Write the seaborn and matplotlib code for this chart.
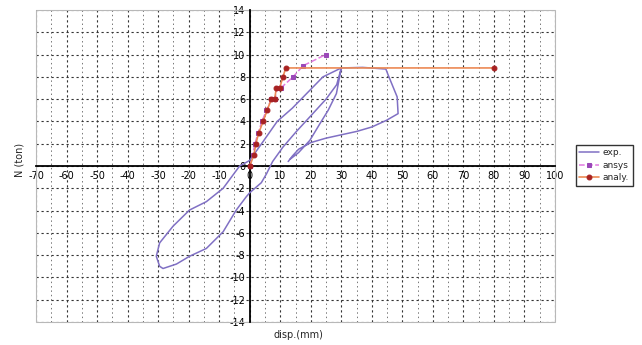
import numpy as np
import pandas as pd
from matplotlib import pyplot as plt
from matplotlib.patches import Rectangle
import seaborn as sbn

# exp. curve (hysteresis path, in drawing order)
exp_x = [12.6, 14, 16, 20, 25, 30, 35, 40, 44.8, 48.6, 48.3, 45.3, 44.6, 37, 30,
         24, 19, 14, 9, 4.4, 0, -3.3, -8.7, -14.2, -19.7, -25.1, -29.5, -30.6, -29.5, -28.4,
         -24, -19.7, -14.2, -8.7, -4.4, -1.1, 0, 3.8, 5.5, 7.5, 10.9, 15.3, 20, 25, 28.5, 30,
         28.4, 25.7, 23, 19.7, 16, 13.2]
exp_y = [0.4, 0.9, 1.5, 2.1, 2.5, 2.8, 3.1, 3.5, 4.1, 4.7, 6.2, 8.2, 8.7, 8.85, 8.8,
         8.0, 6.6, 5.2, 4.0, 2.2, 0.5, 0, -2.0, -3.2, -3.95, -5.4, -6.9, -8.1, -9.0, -9.2,
         -8.8, -8.1, -7.4, -5.9, -3.95, -2.75, -2.4, -1.5, -0.7, 0.4, 1.7, 3.1, 4.5, 6.0, 7.3, 8.8,
         6.5, 5.0, 3.8, 2.3, 1.2, 0.6]

# ansys
ansys_x = [0, 1.0, 1.7, 2.8, 4.0, 5.5, 7.1, 8.2, 9.0, 10.2, 14.2, 17.5, 24.9]
ansys_y = [0, 1, 2, 3, 4, 5, 6, 6, 7, 7, 8, 9, 10]

# analytical
analy_x = [0, 1.4, 2, 3, 4.4, 5.7, 7.1, 8.2, 8.7, 9.8, 10.9, 11.8, 80]
analy_y = [0, 1, 2, 3, 4, 5, 6, 6, 7, 7, 8, 8.8, 8.8]

x_ticks = list(range(-70, 101, 10))
y_ticks = list(range(-14, 15, 2))

sbn.set_style('white')
plt.rcParams['font.family'] = ['DejaVu Sans']

fig = plt.figure(figsize=(6.42, 3.45), dpi=100)
ax = fig.add_axes([36 / 642, 1 - 322 / 345, (555 - 36) / 642, (322 - 10) / 345])

exp_df = pd.DataFrame({'x': exp_x, 'y': exp_y})
ansys_df = pd.DataFrame({'x': ansys_x, 'y': ansys_y})
analy_df = pd.DataFrame({'x': analy_x, 'y': analy_y})

sbn.lineplot(data=exp_df, x='x', y='y', sort=False, estimator=None, ax=ax,
             color='#8070c4', linewidth=1.1, label='exp.', zorder=4)
sbn.lineplot(data=ansys_df, x='x', y='y', sort=False, estimator=None, ax=ax,
             color='#e27ae0', linewidth=1.1, linestyle='--', marker='s', markersize=3.5,
             markerfacecolor='#9a48b8', markeredgecolor='#9a48b8', label='ansys', zorder=5)
sbn.lineplot(data=analy_df, x='x', y='y', sort=False, estimator=None, ax=ax,
             color='#ec8a55', linewidth=1.2, marker='o', markersize=3.5,
             markerfacecolor='#a82222', markeredgecolor='#a82222', label='analy.', zorder=6)

ax.set_xlim(-70, 100)
ax.set_ylim(-14, 14)
ax.set_xticks(x_ticks)
ax.set_xticks(list(range(-65, 100, 10)), minor=True)
ax.set_yticks(y_ticks)
ax.set_xticklabels([str(v) for v in x_ticks])
ax.set_yticklabels([str(v) for v in y_ticks])
ax.set_xlabel('')
ax.set_ylabel('')

# axes through the origin
for side in ['left', 'bottom']:
    ax.spines[side].set_position(('data', 0))
    ax.spines[side].set_color('black')
    ax.spines[side].set_linewidth(1.3)
    ax.spines[side].set_zorder(3)
for side in ['top', 'right']:
    ax.spines[side].set_visible(False)
ax.add_patch(Rectangle((0, 0), 1, 1, transform=ax.transAxes, fill=False,
                       ec='#b8b8b8', lw=0.8, clip_on=False, zorder=1))

ax.tick_params(axis='both', which='major', labelsize=7, length=2.5, width=0.8,
               direction='inout', pad=2, colors='black')
ax.tick_params(axis='both', which='minor', length=0)

ax.grid(True, which='major', color='#333333', linestyle=(0, (2, 2.5)), linewidth=0.8)
ax.grid(True, which='minor', axis='x', color='#777777', linestyle=(0, (1.5, 3)), linewidth=0.7)

fig.text(20 / 642, 1 - 160 / 345, 'N (ton)', rotation=90, ha='center', va='center', fontsize=7)
fig.text(298 / 642, 1 - 335 / 345, 'disp.(mm)', ha='center', va='center', fontsize=7)

handles, labels = ax.get_legend_handles_labels()
ax.get_legend().remove()
leg = fig.legend(handles, labels, loc='upper left', bbox_to_anchor=(571 / 642, 1 - 140 / 345),
                 fontsize=6.5, frameon=True, fancybox=False, edgecolor='black',
                 handlelength=2.2, borderpad=0.4, labelspacing=0.4, handletextpad=0.4)
leg.get_frame().set_linewidth(1.0)

fig.savefig('out.png', dpi=100)
